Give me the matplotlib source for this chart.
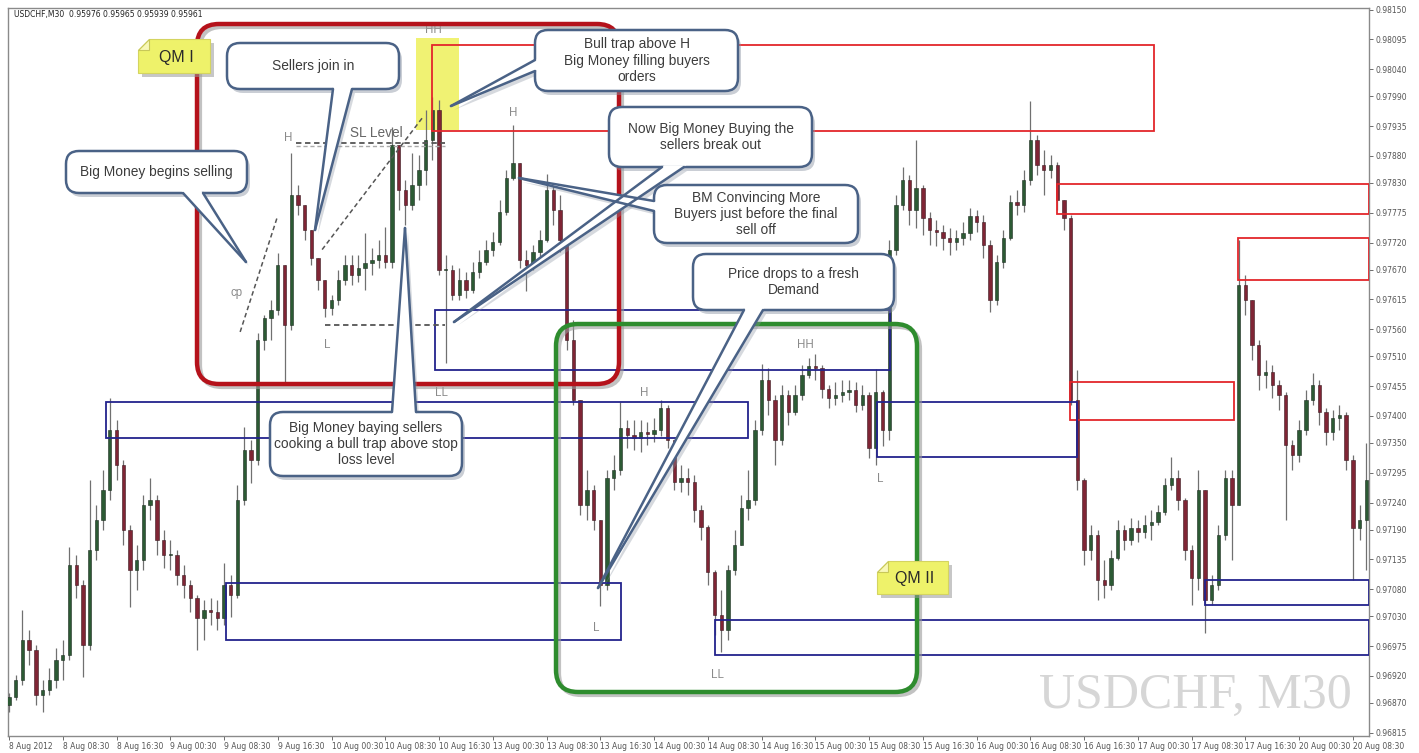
import numpy as np
import matplotlib
matplotlib.use("Agg")
import matplotlib.pyplot as plt
from matplotlib.patches import FancyBboxPatch, Rectangle, Polygon

# ---------------- data (prices in points, 1 point = 0.00001) ----------------
first_open = 96867
close_pts = [96881, 96913, 96987, 96968, 96885, 96894, 96913, 96950, 96959, 97125,
             97088, 96977, 97153, 97208, 97263, 97374, 97310, 97190, 97116, 97134,
             97236, 97245, 97171, 97143, 97143, 97107, 97088, 97064, 97027, 97042,
             97038, 97027, 97088, 97070, 97245, 97337, 97319, 97540, 97581, 97596,
             97679, 97568, 97808, 97790, 97743, 97692, 97651, 97599, 97614, 97651,
             97679, 97660, 97673, 97682, 97688, 97697, 97684, 97900, 97817, 97790,
             97826, 97854, 97910, 97965, 97670, 97670, 97623, 97651, 97633, 97666,
             97684, 97707, 97721, 97777, 97839, 97867, 97688, 97679, 97703, 97725,
             97817, 97780, 97725, 97540, 97430, 97236, 97264, 97208, 97088, 97286,
             97300, 97378, 97365, 97359, 97370, 97367, 97374, 97415, 97356, 97278,
             97286, 97278, 97227, 97195, 97112, 97033, 97005, 97116, 97162, 97230,
             97245, 97374, 97467, 97430, 97356, 97439, 97407, 97439, 97476, 97493,
             97489, 97450, 97433, 97439, 97444, 97448, 97420, 97439, 97341, 97444,
             97374, 97707, 97790, 97836, 97780, 97821, 97766, 97743, 97740, 97729,
             97721, 97729, 97738, 97769, 97758, 97716, 97614, 97684, 97729, 97795,
             97790, 97836, 97910, 97863, 97854, 97863, 97799, 97766, 97430, 97282,
             97153, 97180, 97097, 97088, 97138, 97190, 97171, 97193, 97186, 97199,
             97204, 97223, 97273, 97286, 97245, 97153, 97101, 97264, 97060, 97088,
             97180, 97286, 97236, 97642, 97614, 97531, 97476, 97481, 97457, 97439,
             97347, 97328, 97374, 97430, 97457, 97407, 97370, 97396, 97402, 97319,
             97193, 97208, 97282]
high_pts = [96889, 96922, 97042, 97005, 96977, 96913, 96935, 96972, 96987, 97158,
            97143, 97097, 97282, 97236, 97300, 97433, 97393, 97319, 97199, 97162,
            97254, 97286, 97254, 97190, 97171, 97153, 97125, 97097, 97070, 97060,
            97064, 97060, 97129, 97107, 97273, 97380, 97356, 97553, 97586, 97614,
            97701, 97651, 97886, 97826, 97771, 97734, 97692, 97651, 97623, 97670,
            97697, 97697, 97697, 97738, 97710, 97725, 97748, 97934, 97891, 97836,
            97886, 97882, 97965, 97989, 97983, 97697, 97679, 97673, 97666, 97684,
            97707, 97725, 97740, 97799, 97854, 97937, 97845, 97707, 97716, 97743,
            97847, 97826, 97808, 97725, 97577, 97430, 97300, 97273, 97208, 97300,
            97328, 97426, 97393, 97393, 97393, 97389, 97397, 97430, 97420, 97356,
            97310, 97304, 97291, 97236, 97199, 97116, 97079, 97125, 97190, 97254,
            97300, 97393, 97496, 97489, 97439, 97457, 97448, 97457, 97494, 97507,
            97515, 97494, 97457, 97463, 97467, 97467, 97463, 97457, 97444, 97487,
            97448, 97725, 97808, 97860, 97845, 97910, 97826, 97777, 97762, 97753,
            97747, 97743, 97758, 97784, 97780, 97771, 97725, 97697, 97743, 97808,
            97817, 97854, 97982, 97919, 97891, 97882, 97869, 97799, 97771, 97485,
            97286, 97199, 97190, 97134, 97153, 97208, 97199, 97212, 97208, 97217,
            97227, 97236, 97286, 97325, 97300, 97249, 97162, 97300, 97264, 97107,
            97199, 97300, 97300, 97725, 97660, 97614, 97540, 97503, 97494, 97467,
            97444, 97356, 97393, 97448, 97480, 97467, 97415, 97411, 97420, 97407,
            97328, 97236, 97350]
low_pts = [96854, 96876, 96904, 96940, 96867, 96854, 96885, 96898, 96913, 96950,
           97064, 96918, 96968, 97134, 97190, 97245, 97282, 97162, 97048, 97079,
           97116, 97208, 97143, 97119, 97116, 97088, 97064, 97038, 96968, 96987,
           97014, 97005, 97014, 97029, 97064, 97236, 97276, 97310, 97522, 97540,
           97586, 97461, 97559, 97771, 97725, 97679, 97633, 97583, 97586, 97605,
           97642, 97642, 97647, 97633, 97660, 97673, 97673, 97673, 97780, 97753,
           97780, 97799, 97826, 97873, 97660, 97498, 97614, 97614, 97618, 97627,
           97655, 97679, 97695, 97716, 97771, 97836, 97673, 97631, 97670, 97692,
           97721, 97753, 97703, 97522, 97420, 97217, 97208, 97190, 97049, 97079,
           97264, 97291, 97341, 97337, 97334, 97347, 97352, 97363, 97341, 97264,
           97260, 97254, 97204, 97171, 97088, 96996, 96964, 96987, 97107, 97199,
           97208, 97236, 97365, 97402, 97310, 97347, 97384, 97402, 97430, 97470,
           97467, 97433, 97415, 97420, 97426, 97430, 97407, 97411, 97323, 97310,
           97345, 97356, 97697, 97780, 97753, 97747, 97734, 97716, 97714, 97707,
           97697, 97707, 97716, 97725, 97740, 97692, 97592, 97605, 97673, 97725,
           97771, 97777, 97826, 97845, 97808, 97840, 97780, 97743, 97420, 97264,
           97125, 97134, 97060, 97064, 97079, 97134, 97153, 97162, 97168, 97175,
           97171, 97199, 97217, 97264, 97227, 97134, 97051, 97079, 97000, 97051,
           97079, 97171, 97134, 97236, 97586, 97503, 97448, 97452, 97433, 97411,
           97208, 97300, 97315, 97365, 97420, 97384, 97347, 97356, 97374, 97300,
           97097, 97171, 97116]

xtick_labels = ["8 Aug 2012", "8 Aug 08:30", "8 Aug 16:30", "9 Aug 00:30", "9 Aug 08:30",
                "9 Aug 16:30", "10 Aug 00:30", "10 Aug 08:30", "10 Aug 16:30", "13 Aug 00:30",
                "13 Aug 08:30", "13 Aug 16:30", "14 Aug 00:30", "14 Aug 08:30", "14 Aug 16:30",
                "15 Aug 00:30", "15 Aug 08:30", "15 Aug 16:30", "16 Aug 00:30", "16 Aug 08:30",
                "16 Aug 16:30", "17 Aug 00:30", "17 Aug 08:30", "17 Aug 16:30", "20 Aug 00:30",
                "20 Aug 08:30"]
ytick_labels = ["0.98150", "0.98095", "0.98040", "0.97990", "0.97935", "0.97880", "0.97830",
                "0.97775", "0.97720", "0.97670", "0.97615", "0.97560", "0.97510", "0.97455",
                "0.97400", "0.97350", "0.97295", "0.97240", "0.97190", "0.97135", "0.97080",
                "0.97030", "0.96975", "0.96920", "0.96870", "0.96815"]

# supply (red) and demand (blue) zones: (start bar, end bar, top price, bottom price)
supply_zones = [(62.9, 170.4, 0.98085, 0.97926), (155.9, 202.4, 0.97828, 0.97773),
                (157.9, 182.3, 0.97463, 0.97393), (182.9, 202.4, 0.97729, 0.97651)]
demand_zones = [(14.4, 110.0, 0.97426, 0.97359), (32.3, 91.1, 0.97092, 0.96987),
                (63.4, 131.1, 0.97596, 0.97485), (129.2, 158.9, 0.97426, 0.97324),
                (105.1, 202.4, 0.97023, 0.96959), (178.0, 202.4, 0.97097, 0.97051)]
swing_labels = [("H", 41.5, 0.97913), ("L", 47.3, 0.97531), ("HH", 63.2, 0.98113),
                ("H", 75.1, 0.97960), ("LL", 64.3, 0.97443), ("H", 94.6, 0.97443),
                ("HH", 118.5, 0.97531), ("L", 129.6, 0.97284), ("L", 87.4, 0.97009),
                ("LL", 105.4, 0.96922), ("cp", 33.9, 0.97627)]

# ---------------- figure ----------------
W, H = 1419, 753
fig = plt.figure(figsize=(W / 100, H / 100), dpi=100)
fig.patch.set_facecolor("white")
ax = fig.add_axes([8 / W, (H - 736) / H, (1369 - 8) / W, (736 - 8) / H])
ax.set_facecolor("white")

c = np.array(close_pts) / 1e5
o = np.concatenate([[first_open], close_pts[:-1]]) / 1e5
hi = np.maximum.reduce([np.array(high_pts) / 1e5, o, c])
lo = np.minimum.reduce([np.array(low_pts) / 1e5, o, c])
x = np.arange(len(c))
up = c >= o

ax.vlines(x, lo, hi, color="#707070", lw=0.9, zorder=3)
bot = np.minimum(o, c)
hgt = np.maximum(np.abs(c - o), 0.000015)
ax.bar(x[up], hgt[up], bottom=bot[up], width=0.5, color="#2c5a34",
       edgecolor="#1e2e22", lw=0.4, zorder=4)
ax.bar(x[~up], hgt[~up], bottom=bot[~up], width=0.5, color="#7f2535",
       edgecolor="#3a1a20", lw=0.4, zorder=4)

ax.set_xlim(-0.15, 202.4)
ax.set_ylim(0.96809, 0.98153)

# highlight of the HH bull trap
ax.add_patch(Rectangle((60.6, 0.97928), 6.4, 0.00170, fc="#eef05a", ec="none",
                       alpha=0.85, zorder=2))

for (a, b, top, btm) in supply_zones:
    ax.add_patch(Rectangle((a, btm), b - a, top - btm, fill=False, ec="#e3262b",
                           lw=1.3, zorder=5))
for (a, b, top, btm) in demand_zones:
    ax.add_patch(Rectangle((a, btm), b - a, top - btm, fill=False, ec="#23238c",
                           lw=1.3, zorder=5))

# dashed guide lines
ax.plot([42.7, 64.9], [0.97904, 0.97904], ls=(0, (3, 2)), color="#555555", lw=1.3, zorder=6)
ax.plot([42.7, 64.9], [0.97898, 0.97898], ls=(0, (3, 2)), color="#aaaaaa", lw=1.0, zorder=6)
ax.plot([47.0, 64.9], [0.97568, 0.97568], ls=(0, (3, 2)), color="#555555", lw=1.3, zorder=6)
ax.plot([34.4, 39.9], [0.97555, 0.97766], ls=(0, (3, 2)), color="#555555", lw=1.1, zorder=6)
ax.plot([46.6, 61.5], [0.97707, 0.97950], ls=(0, (3, 2)), color="#555555", lw=1.1, zorder=6)
ax.text(54.6, 0.97923, "SL Level", fontsize=9.8, color="#666666", ha="center",
        va="center", family="Liberation Sans", zorder=6)

for (t, bx, py) in swing_labels:
    ax.text(bx, py, t, fontsize=8.3, color="#8a8a8a", ha="center", va="center",
            family="Liberation Sans", zorder=6)

# axes styling
ax.set_xticks(np.arange(0, 201, 8))
ax.set_xticklabels(xtick_labels, ha="left")
ax.set_yticks([float(v) for v in ytick_labels])
ax.set_yticklabels(ytick_labels)
ax.yaxis.tick_right()
ax.tick_params(axis="both", labelsize=5.5, colors="#555555", length=3, width=0.6, pad=1.5)
for s in ax.spines.values():
    s.set_color("#8a8a8a")
    s.set_linewidth(1.0)

# ---------------- overlay (pixel space) ----------------
ov = fig.add_axes([0, 0, 1, 1], zorder=10)
ov.set_xlim(0, W)
ov.set_ylim(H, 0)
ov.axis("off")
ov.patch.set_alpha(0)

EDGE = "#4a6286"
TXT = "#3c3c3c"


def qm_box(x0, y0, x1, y1, col):
    ov.add_patch(FancyBboxPatch((x0 + 3, y0 + 3), x1 - x0, y1 - y0,
                                boxstyle="round,pad=0,rounding_size=22", fill=False,
                                ec="#9a9a9a", lw=3.0, alpha=0.6, zorder=1))
    ov.add_patch(FancyBboxPatch((x0, y0), x1 - x0, y1 - y0,
                                boxstyle="round,pad=0,rounding_size=22", fill=False,
                                ec=col, lw=3.2, zorder=2))


qm_box(197, 24, 619, 384, "#b5121b")
qm_box(556, 324, 917, 692, "#2e8c2e")


def note(x0, y0, x1, y1, text):
    f = 11
    ov.add_patch(Polygon([(x0 + f + 4, y0 + 4), (x1 + 4, y0 + 4), (x1 + 4, y1 + 4),
                          (x0 + 4, y1 + 4), (x0 + 4, y0 + f + 4)], closed=True,
                         fc="#9a9a9a", ec="none", alpha=0.55, zorder=3))
    ov.add_patch(Polygon([(x0 + f, y0), (x1, y0), (x1, y1), (x0, y1), (x0, y0 + f)],
                         closed=True, fc="#eef26a", ec="#d4d460", lw=0.8, zorder=4))
    ov.add_patch(Polygon([(x0, y0 + f), (x0 + f, y0 + f), (x0 + f, y0)], closed=True,
                         fc="#f8f8b8", ec="#c8c858", lw=0.8, zorder=5))
    ov.text((x0 + x1) / 2 + 2, (y0 + y1) / 2 + 1, text, fontsize=11.5, color="#2a2a2a",
            ha="center", va="center", family="Liberation Sans", zorder=6)


note(138, 39, 210, 73, "QM I")
note(877, 561, 948, 594, "QM II")


def callout(box, text, base, tip, fs=9.9):
    x0, y0, x1, y1 = box
    w, h = x1 - x0, y1 - y0
    ov.add_patch(FancyBboxPatch((x0 + 3, y0 + 4), w, h,
                                boxstyle="round,pad=0,rounding_size=13",
                                fc="#8a94a2", ec="none", alpha=0.45, zorder=3))
    (bx1, by1), (bx2, by2) = base
    tx, ty = tip
    ov.add_patch(Polygon([(bx1 + 3, by1 + 4), (bx2 + 3, by2 + 4), (tx + 3, ty + 4)],
                         closed=True, fc="#8a94a2", ec="none", alpha=0.35, zorder=3))
    ov.add_patch(FancyBboxPatch((x0, y0), w, h,
                                boxstyle="round,pad=0,rounding_size=13",
                                fc="white", ec=EDGE, lw=1.8, zorder=4))
    mx, my = (bx1 + bx2) / 2, (by1 + by2) / 2
    d = np.hypot(mx - tx, my - ty)
    sx, sy = (mx - tx) / d * 3.0, (my - ty) / d * 3.0
    ov.add_patch(Polygon([(bx1 + sx, by1 + sy), (bx2 + sx, by2 + sy), (tx, ty)],
                         closed=True, fc="white", ec="none", zorder=5))
    ov.plot([bx1, tx], [by1, ty], color=EDGE, lw=1.8, zorder=6, solid_capstyle="round")
    ov.plot([bx2, tx], [by2, ty], color=EDGE, lw=1.8, zorder=6, solid_capstyle="round")
    ov.text((x0 + x1) / 2, (y0 + y1) / 2, text, fontsize=fs, color=TXT, ha="center",
            va="center", linespacing=1.2, family="Liberation Sans", zorder=7)


callout((66, 151, 247, 193), "Big Money begins selling",
        [(183, 193), (203, 193)], (246, 262))
callout((227, 43, 399, 89), "Sellers join in",
        [(333, 89), (352, 89)], (315, 230))
callout((535, 30, 738, 91), "Bull trap above H\nBig Money filling buyers\norders",
        [(535, 60), (535, 71)], (451, 106))
callout((609, 107, 812, 167), "Now Big Money Buying the\nsellers break out",
        [(662, 167), (684, 167)], (454, 322))
callout((654, 185, 858, 243), "BM Convincing More\nBuyers just before the final\nsell off",
        [(654, 201), (654, 211)], (519, 178))
callout((693, 254, 894, 310), "Price drops to a fresh\nDemand",
        [(744, 310), (763, 310)], (598, 588))
callout((270, 412, 462, 476),
        "Big Money baying sellers\ncooking a bull trap above stop\nloss level",
        [(392, 412), (416, 412)], (405, 228))

# header and watermark
ov.text(14, 14, "USDCHF,M30  0.95976 0.95965 0.95939 0.95961", fontsize=5.5,
        color="#222222", ha="left", va="center", family="DejaVu Sans", zorder=8)
ov.text(1352, 708, "USDCHF, M30", fontsize=36, color="#d6d6d6", ha="right",
        va="baseline", family="Liberation Serif", zorder=0.5)

fig.savefig("out.png", dpi=100)
